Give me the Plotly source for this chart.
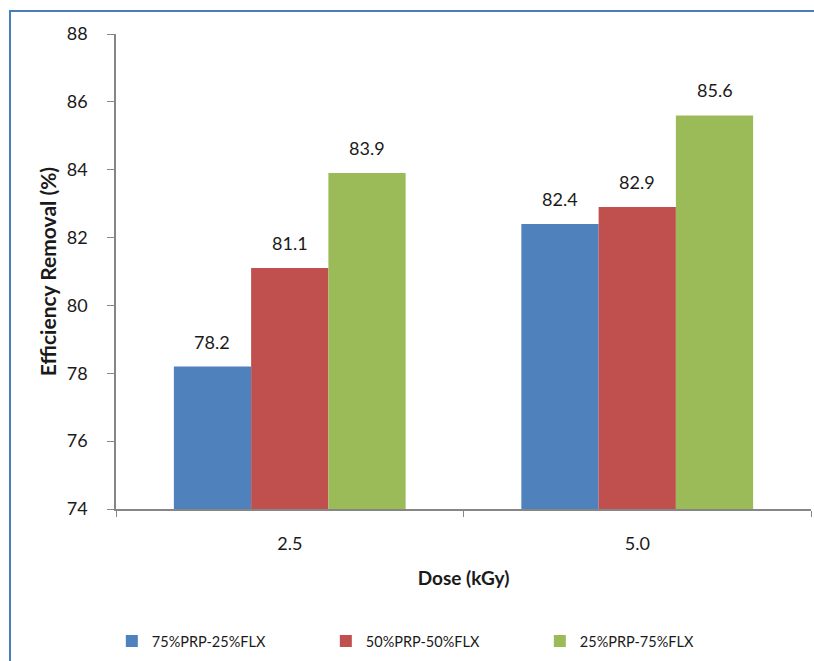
import plotly.graph_objects as go

# Dose categories and removal efficiency for each blend
doses = ["2.5", "5.0"]
series_names = ["75%PRP-25%FLX", "50%PRP-50%FLX", "25%PRP-75%FLX"]
eff_75_25 = [78.2, 82.4]
eff_50_50 = [81.1, 82.9]
eff_25_75 = [83.9, 85.6]
colors = ["#4F81BD", "#C0504D", "#9BBB59"]

y_ticks = [74, 76, 78, 80, 82, 84, 86, 88]

FONT = "Lato"
BARGAP = 0.333

series_values = [eff_75_25, eff_50_50, eff_25_75]

fig = go.Figure()
for name, vals, col in zip(series_names, series_values, colors):
    fig.add_trace(go.Bar(
        x=doses, y=vals, name=name,
        marker=dict(color=col, line=dict(width=0)),
    ))

# value labels above each bar, placed from the bar's own value
bar_w = (1 - BARGAP) / len(series_values)
annotations = []
for si, vals in enumerate(series_values):
    off = (si - (len(series_values) - 1) / 2) * bar_w
    for ci, v in enumerate(vals):
        annotations.append(dict(
            x=ci + off, y=v, xref="x", yref="y",
            text=f"{v:.1f}", showarrow=False,
            yanchor="bottom", yshift=12,
            font=dict(family=FONT, size=18, color="#1a1a1a"),
        ))

fig.update_layout(
    width=814, height=661,
    margin=dict(l=116, r=3, t=34, b=152),
    paper_bgcolor="white", plot_bgcolor="white",
    barmode="group", bargap=BARGAP, bargroupgap=0,
    font=dict(family=FONT, size=18, color="#1a1a1a"),
    showlegend=True,
    legend=dict(
        orientation="h", x=-0.006, xanchor="left", y=-0.278, yanchor="middle",
        font=dict(family=FONT, size=14.5, color="#1a1a1a"),
        entrywidth=169, entrywidthmode="pixels",
        itemwidth=30, traceorder="normal",
    ),
    annotations=annotations,
    shapes=[dict(
        type="rect", xref="paper", yref="paper",
        x0=-0.1525, x1=1.02, y0=-0.35, y1=1.0484,
        line=dict(color="#4A7EBB", width=2), fillcolor="rgba(0,0,0,0)",
        layer="below",
    )],
)

fig.update_xaxes(
    type="category",
    showline=True, linecolor="#868686", linewidth=1.5,
    ticks="outside", tickson="boundaries", ticklen=6, tickcolor="#868686",
    tickfont=dict(family=FONT, size=18, color="#1a1a1a"),
    ticklabelstandoff=18,
    title=dict(text="<b>Dose (kGy)</b>", font=dict(family=FONT, size=19, color="#1a1a1a"), standoff=18),
    showgrid=False, zeroline=False,
)
fig.update_yaxes(
    range=[74, 88], tickvals=y_ticks, ticktext=[str(t) for t in y_ticks],
    showline=True, linecolor="#868686", linewidth=1.5,
    ticks="outside", ticklen=7, tickcolor="#868686",
    tickfont=dict(family=FONT, size=18, color="#1a1a1a"),
    ticklabelstandoff=16,
    title=dict(text="<b>Efficiency Removal (%)</b>", font=dict(family=FONT, size=21, color="#1a1a1a"), standoff=4),
    showgrid=False, zeroline=False,
)

fig.write_html("out.html")
